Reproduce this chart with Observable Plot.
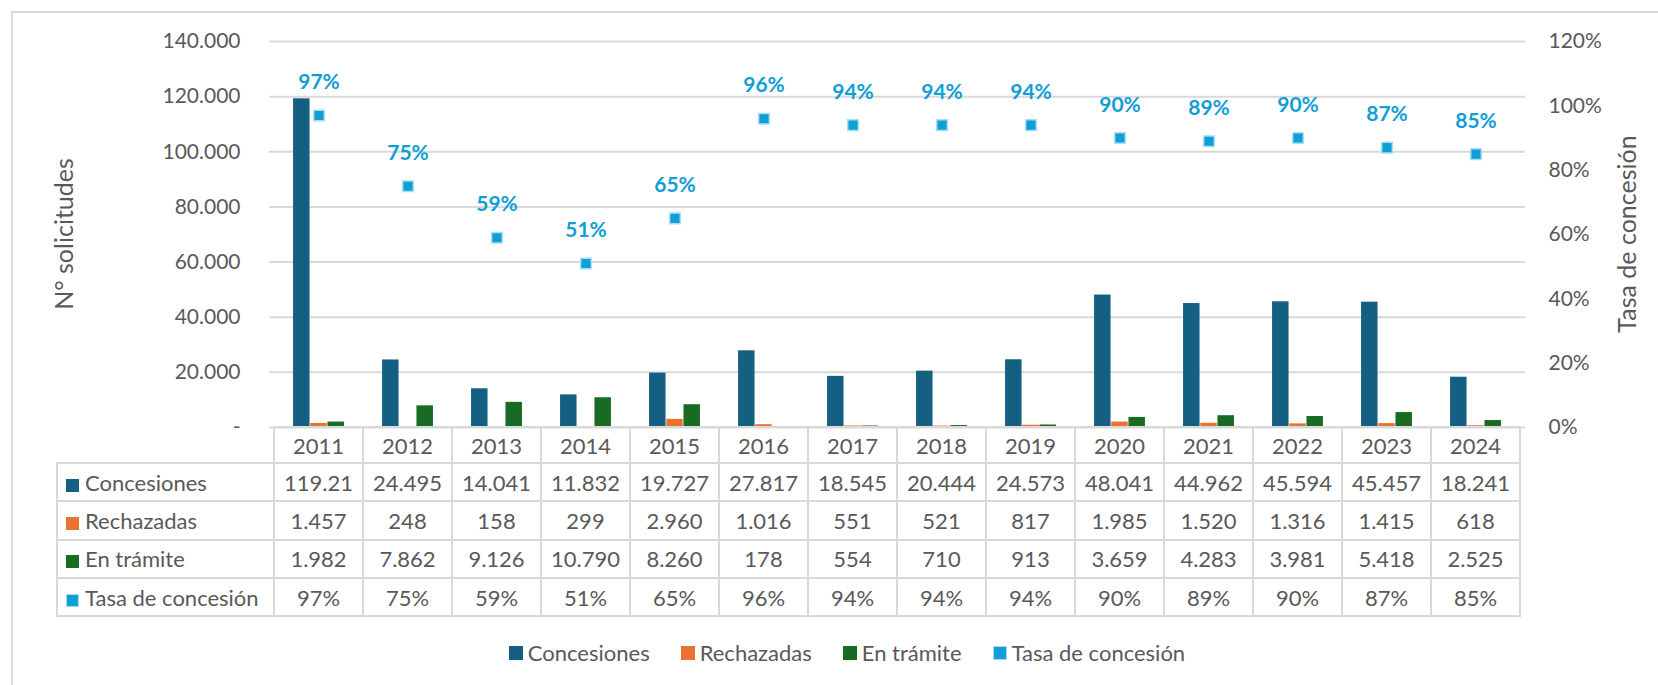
<!DOCTYPE html>
<html>
<head>
<meta charset="utf-8">
<script src="https://cdn.jsdelivr.net/npm/d3@7"></script>
<script src="https://cdn.jsdelivr.net/npm/@observablehq/plot@0.6"></script>
<style>
  html, body { margin: 0; padding: 0; background: #fff; }
  #wrap { position: relative; width: 1658px; height: 685px; overflow: hidden; font-family: Lato, "Noto Sans", sans-serif; color: #595959; }
  #frame { position: absolute; left: 11px; top: 11px; width: 1720px; height: 740px; border: 2px solid #D9D9D9; box-sizing: border-box; }
  #chart { position: absolute; left: 0; top: 0; }
  .ytitle { position: absolute; font-size: 25px; white-space: nowrap; transform: translate(-50%, -50%) rotate(-90deg); }
  #tbl { position: absolute; border-collapse: collapse; table-layout: fixed; font-size: 22px; color: #595959; }
  #tbl td { border: 2px solid #D9D9D9; text-align: center; padding: 0; white-space: nowrap; overflow: hidden; }
  #tbl td.corner { border-top: none; border-left: none; }
  #tbl td.lab { text-align: left; padding-left: 8px; }
  .sw { display: inline-block; width: 13px; height: 13px; margin-right: 6px; vertical-align: -1px; box-sizing: border-box; }
  #legend { position: absolute; left: 12px; width: 1670px; top: 639px; display: flex; justify-content: center; gap: 31px; font-size: 22px; }
  #legend .item { display: flex; align-items: center; }
  #legend .sw { width: 14px; height: 14px; margin-right: 5px; vertical-align: 0; }
</style>
</head>
<body>
<div id="wrap">
  <div id="frame"></div>
  <div id="chart"></div>
  <div class="ytitle" style="left:63px; top:234px;">N° solicitudes</div>
  <div class="ytitle" style="left:1626px; top:234px;">Tasa de concesión</div>
  <table id="tbl"></table>
  <div id="legend"></div>
</div>
<script>
// ---- Data ----
const years = ["2011","2012","2013","2014","2015","2016","2017","2018","2019","2020","2021","2022","2023","2024"];
const concesiones = [119210, 24495, 14041, 11832, 19727, 27817, 18545, 20444, 24573, 48041, 44962, 45594, 45457, 18241];
const rechazadas  = [1457, 248, 158, 299, 2960, 1016, 551, 521, 817, 1985, 1520, 1316, 1415, 618];
const enTramite   = [1982, 7862, 9126, 10790, 8260, 178, 554, 710, 913, 3659, 4283, 3981, 5418, 2525];
const tasa        = [97, 75, 59, 51, 65, 96, 94, 94, 94, 90, 89, 90, 87, 85]; // %
const seriesNames = ["Concesiones", "Rechazadas", "En trámite", "Tasa de concesión"];
const colors      = ["#156082", "#E97132", "#196B24", "#0F9ED5"];
const yTicks      = [0, 20000, 40000, 60000, 80000, 100000, 120000, 140000];
const pctTicks    = [0, 20, 40, 60, 80, 100, 120];
const yMax = 140000, pctMax = 120;

const rows = years.map((y, i) => ({year: y, conc: concesiones[i], rech: rechazadas[i], tram: enTramite[i], tasa: tasa[i]}));

const thousands = v => d3.format(",")(v).replace(/,/g, ".");
const leftFmt = v => v === 0 ? "-" : thousands(v);
const pctOnLeft = p => p / pctMax * yMax;           // map % onto the left-axis domain
const rightFmt = v => Math.round(v / yMax * pctMax) + "%";

const W = 1658, H = 430, mL = 269, mR = 133, mT = 41, mB = 3;
const band = (W - mL - mR) / years.length;
const barW = 17.2;
const inset = (band - barW) / 2;

const chart = Plot.plot({
  width: W, height: H,
  marginLeft: mL, marginRight: mR, marginTop: mT, marginBottom: mB,
  style: {fontFamily: "Lato, 'Noto Sans', sans-serif", fontSize: "21px", color: "#595959", background: "transparent", overflow: "visible"},
  x: {type: "band", domain: years, padding: 0, axis: null},
  y: {domain: [0, yMax], axis: null},
  marks: [
    Plot.gridY(yTicks, {stroke: "#D9D9D9", strokeOpacity: 1, strokeWidth: 2}),
    Plot.axisY(yTicks, {anchor: "left", tickSize: 0, tickPadding: 29, tickFormat: leftFmt, label: null, fill: "#595959"}),
    Plot.axisY(pctTicks.map(pctOnLeft), {anchor: "right", tickSize: 0, tickPadding: 23, tickFormat: rightFmt, label: null, fill: "#595959"}),
    Plot.barY(rows, {x: "year", y: "conc", fill: colors[0], insetLeft: inset, insetRight: inset, dx: -barW}),
    Plot.barY(rows, {x: "year", y: "rech", fill: colors[1], insetLeft: inset, insetRight: inset, dx: 0}),
    Plot.barY(rows, {x: "year", y: "tram", fill: colors[2], insetLeft: inset, insetRight: inset, dx: barW}),
    Plot.dot(rows, {x: "year", y: d => pctOnLeft(d.tasa), symbol: "square", r: 6, fill: colors[3], stroke: "#A8DDF3", strokeWidth: 1.5}),
    Plot.text(rows, {x: "year", y: d => pctOnLeft(d.tasa), text: d => d.tasa + "%", dy: -33, fill: colors[3], fontWeight: "bold", fontSize: 21})
  ]
});
document.getElementById("chart").appendChild(chart);

// ---- Data table under the chart, aligned on the x scale ----
const xs = chart.scale("x");
const tbl = document.getElementById("tbl");
const labelLeft = 57;
const x0 = xs.apply(years[0]);
const colgroup = document.createElement("colgroup");
const c0 = document.createElement("col"); c0.style.width = (x0 - labelLeft) + "px"; colgroup.appendChild(c0);
years.forEach(() => { const c = document.createElement("col"); c.style.width = xs.bandwidth + "px"; colgroup.appendChild(c); });
tbl.appendChild(colgroup);
tbl.style.left = (labelLeft - 1) + "px";
tbl.style.top = (H - mB - 1) + "px";
tbl.style.width = (x0 - labelLeft + xs.bandwidth * years.length) + "px";

const cellText = v => { const s = thousands(v); return s.length > 6 ? s.slice(0, 6) : s; };
const head = tbl.insertRow();
head.style.height = "36px";
const corner = head.insertCell(); corner.className = "corner";
years.forEach(y => { head.insertCell().textContent = y; });
const tableSeries = [
  {name: seriesNames[0], color: colors[0], vals: concesiones.map(cellText)},
  {name: seriesNames[1], color: colors[1], vals: rechazadas.map(cellText)},
  {name: seriesNames[2], color: colors[2], vals: enTramite.map(cellText)},
  {name: seriesNames[3], color: colors[3], vals: tasa.map(t => t + "%"), border: true}
];
const swatch = s => `<span class="sw" style="background:${s.color};${s.border ? "border:1.5px solid #A8DDF3;" : ""}"></span>`;
tableSeries.forEach(s => {
  const r = tbl.insertRow();
  r.style.height = "38.3px";
  const l = r.insertCell(); l.className = "lab"; l.innerHTML = swatch(s) + s.name;
  s.vals.forEach(v => { r.insertCell().textContent = v; });
});

// ---- Legend ----
const legend = document.getElementById("legend");
tableSeries.forEach(s => {
  const it = document.createElement("div"); it.className = "item";
  it.innerHTML = swatch(s) + `<span>${s.name}</span>`;
  legend.appendChild(it);
});
</script>
</body>
</html>
